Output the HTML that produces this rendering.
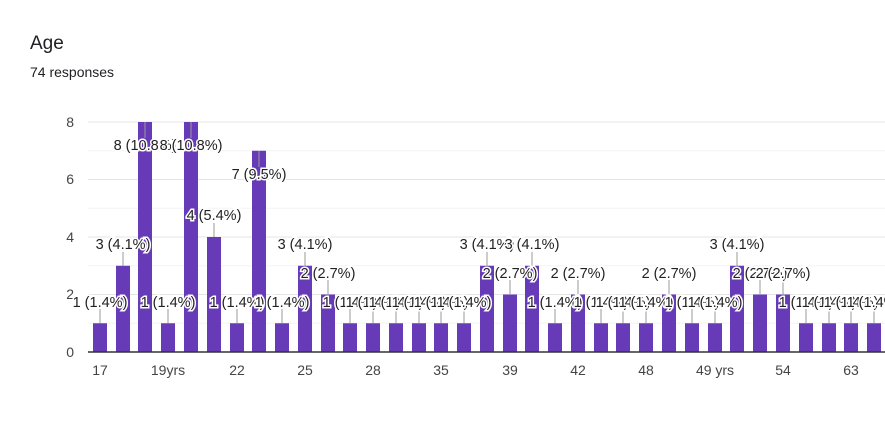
<!DOCTYPE html>
<html><head><meta charset="utf-8"><style>
body{margin:0;background:#fff;width:885px;height:448px;overflow:hidden;font-family:"Liberation Sans",sans-serif}
.t{position:absolute;left:30px;top:33px;font-size:19px;color:#202124}
.r{position:absolute;left:30px;top:64px;font-size:14px;color:#202124}
svg{position:absolute;left:0;top:0}
.l{font-size:14.5px;fill:#222;stroke:#fff;stroke-width:3px;paint-order:stroke;text-anchor:middle}
.ax{font-size:14px;fill:#444;text-anchor:middle}
.ay{font-size:14px;fill:#444;text-anchor:end}
</style></head><body>
<div class="t">Age</div><div class="r">74 responses</div>
<svg width="885" height="448">
<g stroke="#f3f3f3"><line x1="88" x2="885" y1="323.25" y2="323.25"/><line x1="88" x2="885" y1="265.75" y2="265.75"/><line x1="88" x2="885" y1="208.25" y2="208.25"/><line x1="88" x2="885" y1="150.75" y2="150.75"/></g>
<g stroke="#e4e4e4"><line x1="88" x2="885" y1="294.5" y2="294.5"/><line x1="88" x2="885" y1="237" y2="237"/><line x1="88" x2="885" y1="179.5" y2="179.5"/><line x1="88" x2="885" y1="122" y2="122"/></g>
<g class="ay"><text x="74" y="357">0</text><text x="74" y="299">2</text><text x="74" y="242">4</text><text x="74" y="184">6</text><text x="74" y="127">8</text></g>
<g fill="#673ab7">
<rect x="93" y="323.25" width="14" height="28.75"/><rect x="116" y="265.75" width="14" height="86.25"/><rect x="138" y="122" width="14" height="230"/><rect x="161" y="323.25" width="14" height="28.75"/><rect x="184" y="122" width="14" height="230"/><rect x="207" y="237" width="14" height="115"/><rect x="230" y="323.25" width="14" height="28.75"/><rect x="252" y="150.75" width="14" height="201.25"/><rect x="275" y="323.25" width="14" height="28.75"/><rect x="298" y="265.75" width="14" height="86.25"/><rect x="321" y="294.5" width="14" height="57.5"/><rect x="343" y="323.25" width="14" height="28.75"/><rect x="366" y="323.25" width="14" height="28.75"/><rect x="389" y="323.25" width="14" height="28.75"/><rect x="412" y="323.25" width="14" height="28.75"/><rect x="434" y="323.25" width="14" height="28.75"/><rect x="457" y="323.25" width="14" height="28.75"/><rect x="480" y="265.75" width="14" height="86.25"/><rect x="503" y="294.5" width="14" height="57.5"/><rect x="525" y="265.75" width="14" height="86.25"/><rect x="548" y="323.25" width="14" height="28.75"/><rect x="571" y="294.5" width="14" height="57.5"/><rect x="594" y="323.25" width="14" height="28.75"/><rect x="616" y="323.25" width="14" height="28.75"/><rect x="639" y="323.25" width="14" height="28.75"/><rect x="662" y="294.5" width="14" height="57.5"/><rect x="685" y="323.25" width="14" height="28.75"/><rect x="708" y="323.25" width="14" height="28.75"/><rect x="730" y="265.75" width="14" height="86.25"/><rect x="753" y="294.5" width="14" height="57.5"/><rect x="776" y="294.5" width="14" height="57.5"/><rect x="799" y="323.25" width="14" height="28.75"/><rect x="822" y="323.25" width="14" height="28.75"/><rect x="844" y="323.25" width="14" height="28.75"/><rect x="867" y="323.25" width="14" height="28.75"/>
</g>
<line x1="88" x2="885" y1="352" y2="352" stroke="#333" stroke-width="1.5"/>
<g stroke="#999">
<line x1="100" x2="100" y1="309" y2="323"/><line x1="123" x2="123" y1="252" y2="266"/><line x1="145" x2="145" y1="122" y2="138"/><line x1="168" x2="168" y1="309" y2="323"/><line x1="191" x2="191" y1="122" y2="138"/><line x1="214" x2="214" y1="223" y2="237"/><line x1="237" x2="237" y1="309" y2="323"/><line x1="259" x2="259" y1="151" y2="167"/><line x1="282" x2="282" y1="309" y2="323"/><line x1="305" x2="305" y1="252" y2="266"/><line x1="328" x2="328" y1="280" y2="294"/><line x1="350" x2="350" y1="309" y2="323"/><line x1="373" x2="373" y1="309" y2="323"/><line x1="396" x2="396" y1="309" y2="323"/><line x1="419" x2="419" y1="309" y2="323"/><line x1="441" x2="441" y1="309" y2="323"/><line x1="464" x2="464" y1="309" y2="323"/><line x1="487" x2="487" y1="252" y2="266"/><line x1="510" x2="510" y1="280" y2="294"/><line x1="532" x2="532" y1="252" y2="266"/><line x1="555" x2="555" y1="309" y2="323"/><line x1="578" x2="578" y1="280" y2="294"/><line x1="601" x2="601" y1="309" y2="323"/><line x1="623" x2="623" y1="309" y2="323"/><line x1="646" x2="646" y1="309" y2="323"/><line x1="669" x2="669" y1="280" y2="294"/><line x1="692" x2="692" y1="309" y2="323"/><line x1="715" x2="715" y1="309" y2="323"/><line x1="737" x2="737" y1="252" y2="266"/><line x1="760" x2="760" y1="280" y2="294"/><line x1="783" x2="783" y1="280" y2="294"/><line x1="806" x2="806" y1="309" y2="323"/><line x1="829" x2="829" y1="309" y2="323"/><line x1="851" x2="851" y1="309" y2="323"/><line x1="874" x2="874" y1="309" y2="323"/>
</g>
<g class="l">
<text x="100" y="307">1 (1.4%)</text><text x="123" y="249">3 (4.1%)</text><text x="145" y="150">8 (10.8%)</text><text x="168" y="307">1 (1.4%)</text><text x="191" y="150">8 (10.8%)</text><text x="214" y="220">4 (5.4%)</text><text x="237" y="307">1 (1.4%)</text><text x="259" y="179">7 (9.5%)</text><text x="282" y="307">1 (1.4%)</text><text x="305" y="249">3 (4.1%)</text><text x="328" y="278">2 (2.7%)</text><text x="350" y="307">1 (1.4%)</text><text x="373" y="307">1 (1.4%)</text><text x="396" y="307">1 (1.4%)</text><text x="419" y="307">1 (1.4%)</text><text x="441" y="307">1 (1.4%)</text><text x="464" y="307">1 (1.4%)</text><text x="487" y="249">3 (4.1%)</text><text x="510" y="278">2 (2.7%)</text><text x="532" y="249">3 (4.1%)</text><text x="555" y="307">1 (1.4%)</text><text x="578" y="278">2 (2.7%)</text><text x="601" y="307">1 (1.4%)</text><text x="623" y="307">1 (1.4%)</text><text x="646" y="307">1 (1.4%)</text><text x="669" y="278">2 (2.7%)</text><text x="692" y="307">1 (1.4%)</text><text x="715" y="307">1 (1.4%)</text><text x="737" y="249">3 (4.1%)</text><text x="760" y="278">2 (2.7%)</text><text x="783" y="278">2 (2.7%)</text><text x="806" y="307">1 (1.4%)</text><text x="829" y="307">1 (1.4%)</text><text x="851" y="307">1 (1.4%)</text><text x="874" y="307">1 (1.4%)</text>
</g>
<g class="ax">
<text x="100" y="375">17</text><text x="168" y="375">19yrs</text><text x="237" y="375">22</text><text x="305" y="375">25</text><text x="373" y="375">28</text><text x="441" y="375">35</text><text x="510" y="375">39</text><text x="578" y="375">42</text><text x="646" y="375">48</text><text x="715" y="375">49 yrs</text><text x="783" y="375">54</text><text x="851" y="375">63</text>
</g>
</svg>
</body></html>
